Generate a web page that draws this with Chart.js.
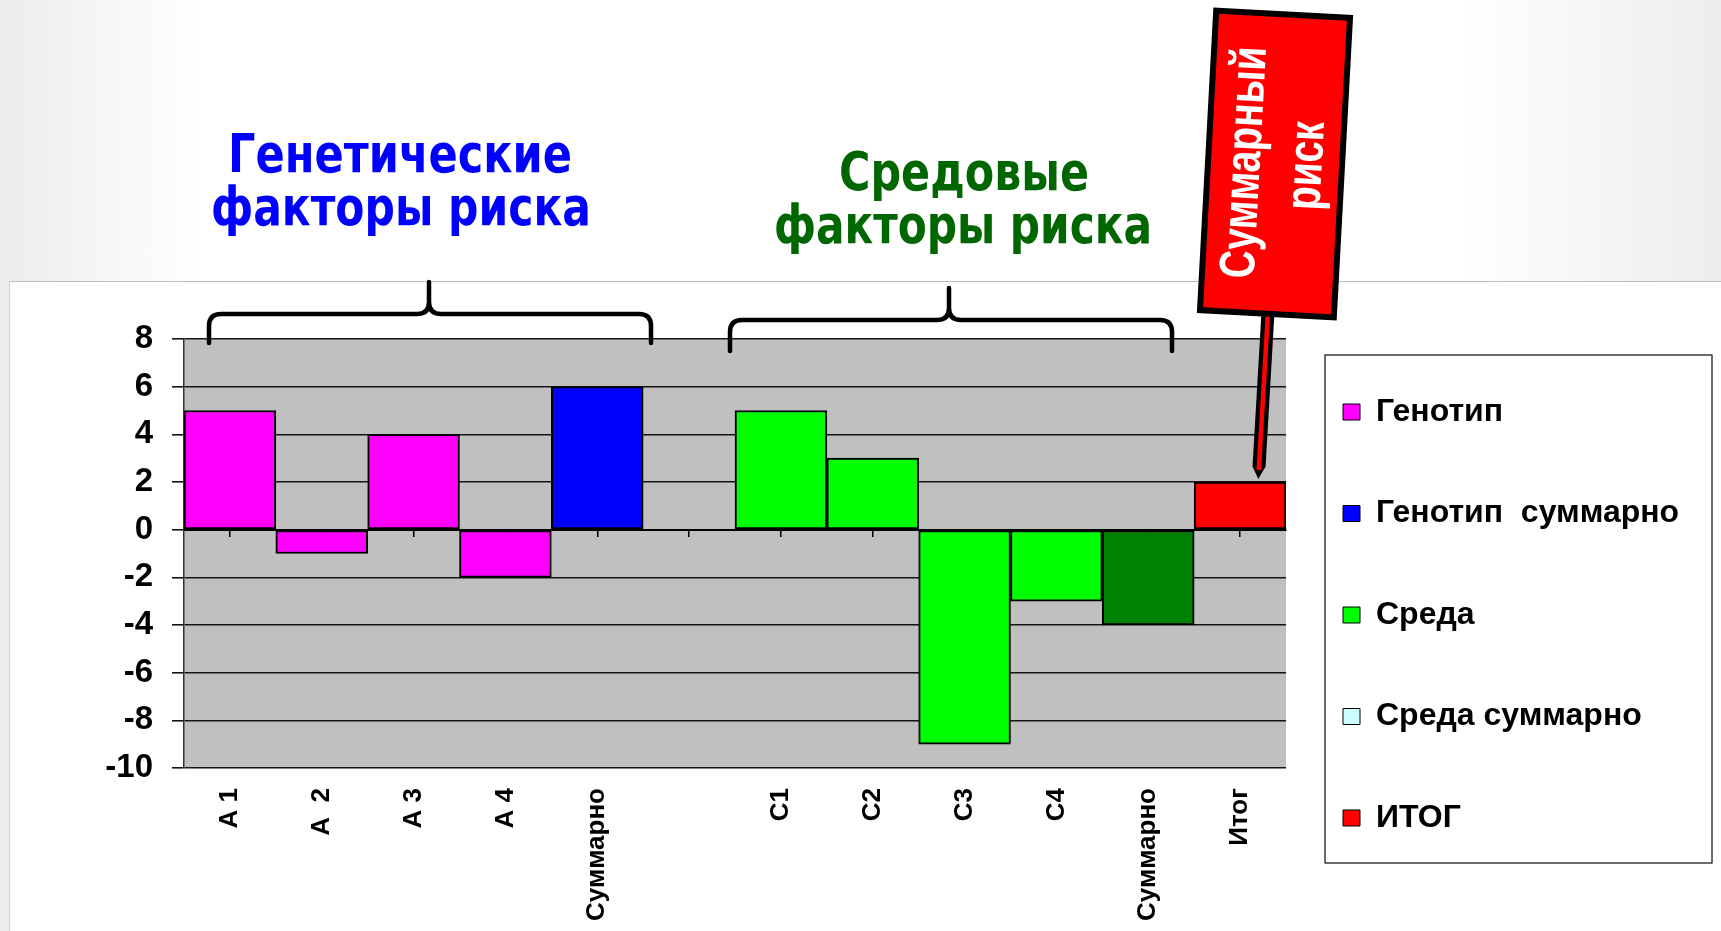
<!DOCTYPE html>
<html lang="ru">
<head>
<meta charset="utf-8">
<title>Генетические и средовые факторы риска</title>
<script src="https://cdn.jsdelivr.net/npm/chart.js@4.4.1/dist/chart.umd.min.js"></script>
<style>
  html, body { margin: 0; padding: 0; background: #ffffff; }
  body { width: 1721px; height: 931px; position: relative; overflow: hidden; }
  .edge { position: absolute; top: 0; height: 931px; }
  #edgeL { left: 0; width: 200px; background: linear-gradient(to right, #ececec, #ffffff); }
  #edgeR { right: 0; width: 260px; background: linear-gradient(to left, #ededed, #f5f5f5 45%, #ffffff); }
  #middle { position: absolute; left: 200px; top: 0; width: 1261px; height: 281px; background: #ffffff; }
  #panel {
    position: absolute; left: 9px; top: 281px; right: 0; bottom: 0;
    background: #ffffff; border-top: 1px solid #bdbdbd; border-left: 1px solid #cfcfcf;
  }
  #chart { position: absolute; left: 0; top: 0; }
</style>
</head>
<body>
<div class="edge" id="edgeL"></div>
<div class="edge" id="edgeR"></div>
<div id="middle"></div>
<div id="panel"></div>
<canvas id="chart" width="1721" height="931"></canvas>
<script>
// Categories along the x axis (an empty slot separates the two groups)
const categories = ['A 1', 'A  2', 'A 3', 'A 4', 'Суммарно', '', 'C1', 'C2', 'C3', 'C4', 'Суммарно', 'Итог'];

// Series values per category
const genotype         = [5, -1, 4, -2, null, null, null, null, null, null, null, null];
const genotypeTotal    = [null, null, null, null, 6, null, null, null, null, null, null, null];
const environment      = [null, null, null, null, null, null, 5, 3, -9, -3, null, null];
const environmentTotal = [null, null, null, null, null, null, null, null, null, null, -4, null];
const overall          = [null, null, null, null, null, null, null, null, null, null, null, 2];

// Series names and value-axis ticks
const seriesNames = ['Генотип', 'Генотип  суммарно', 'Среда', 'Среда суммарно', 'ИТОГ'];
const yTicks = [8, 6, 4, 2, 0, -2, -4, -6, -8, -10];

// Colours
const barColors    = ['#ff00ff', '#0000ff', '#00ff00', '#008000', '#ff0000'];
const legendColors = ['#ff00ff', '#0000ff', '#00ff00', '#ccffff', '#ff0000'];

const W = 1721, H = 931;
const PLOT_LEFT = 184, PLOT_TOP = 339, PLOT_RIGHT = 1286, PLOT_BOTTOM = 768;
const SANS = '"Liberation Sans", Arial, sans-serif';
const LEGEND_FONT = { family: SANS, weight: 'bold', size: 32, lineHeight: '44.5px' };
const LEGEND_PAD = 57, LEGEND_BOX_W = 17, LEGEND_BOX_H = 16;

// Width of the legend column, so the plot keeps its right edge
const mctx = document.createElement('canvas').getContext('2d');
mctx.font = 'bold 32px ' + SANS;
const longestName = Math.max(...seriesNames.map(s => mctx.measureText(s).width));
const legendWidth = LEGEND_PAD + LEGEND_BOX_W + LEGEND_FONT.size / 2 + longestName + 10;
const padRight = Math.max(0, W - PLOT_RIGHT - legendWidth);

const seriesData = [genotype, genotypeTotal, environment, environmentTotal, overall];
const datasets = seriesData.map((values, i) => ({
  label: seriesNames[i],
  data: values,
  backgroundColor: barColors[i],
  borderColor: '#000000',
  borderWidth: 2,
  borderSkipped: false,
  barPercentage: 1,
  categoryPercentage: 1,
  xAxisID: 'x',
  yAxisID: 'y'
}));

// Grey plot background
const plotBackground = {
  id: 'plotBackground',
  beforeDraw(chart) {
    const { ctx, chartArea: a } = chart;
    ctx.save();
    ctx.fillStyle = '#c0c0c0';
    ctx.fillRect(a.left, a.top, a.right - a.left, a.bottom - a.top);
    ctx.restore();
  }
};

function drawBrace(ctx, x0, x1, xc, yH, yEnd, yTop) {
  const r = 12;
  ctx.beginPath();
  ctx.moveTo(x0, yEnd);
  ctx.lineTo(x0, yH + r);
  ctx.quadraticCurveTo(x0, yH, x0 + r, yH);
  ctx.lineTo(xc - r, yH);
  ctx.quadraticCurveTo(xc, yH, xc, yH - r);
  ctx.lineTo(xc, yTop);
  ctx.moveTo(x1, yEnd);
  ctx.lineTo(x1, yH + r);
  ctx.quadraticCurveTo(x1, yH, x1 - r, yH);
  ctx.lineTo(xc + r, yH);
  ctx.quadraticCurveTo(xc, yH, xc, yH - r);
  ctx.stroke();
}

function fitText(ctx, text, cx, baseline, width) {
  const w = ctx.measureText(text).width;
  ctx.save();
  ctx.translate(cx, baseline);
  ctx.scale(width / w, 1);
  ctx.textAlign = 'center';
  ctx.textBaseline = 'alphabetic';
  ctx.fillText(text, 0, 0);
  ctx.restore();
}

// Headings, braces, legend frame and the "total risk" flag
const annotations = {
  id: 'annotations',
  afterDraw(chart) {
    const ctx = chart.ctx;
    ctx.save();

    // group headings
    ctx.font = 'bold 53px "DejaVu Sans", sans-serif';
    ctx.fillStyle = '#0000ff';
    fitText(ctx, 'Генетические', 400, 172, 344);
    fitText(ctx, 'факторы риска', 401, 225, 380);
    ctx.fillStyle = '#006600';
    fitText(ctx, 'Средовые', 964, 190, 250);
    fitText(ctx, 'факторы риска', 963, 243, 378);

    // braces over the two groups
    ctx.strokeStyle = '#000000';
    ctx.lineWidth = 4.5;
    ctx.lineCap = 'round';
    ctx.lineJoin = 'round';
    drawBrace(ctx, 209, 651, 429, 314, 343, 282);
    drawBrace(ctx, 730, 1172, 949, 320, 351, 288);

    // legend frame
    const lg = chart.legend;
    if (lg && lg.legendHitBoxes && lg.legendHitBoxes.length) {
      const hb = lg.legendHitBoxes;
      const x0 = hb[0].left - 18, y0 = hb[0].top - 41;
      const y1 = hb[hb.length - 1].top + 61;
      ctx.lineWidth = 1.5;
      ctx.lineCap = 'butt';
      ctx.strokeStyle = '#3a3a3a';
      ctx.strokeRect(x0, y0, 1712 - x0, y1 - y0);
    }

    // flag stem
    ctx.lineCap = 'butt';
    ctx.strokeStyle = '#000000';
    ctx.lineWidth = 13;
    ctx.beginPath();
    ctx.moveTo(1268, 312);
    ctx.lineTo(1259, 467);
    ctx.stroke();
    ctx.fillStyle = '#000000';
    ctx.beginPath();
    ctx.moveTo(1252.3, 466);
    ctx.lineTo(1265.3, 467);
    ctx.lineTo(1258.3, 479);
    ctx.closePath();
    ctx.fill();
    ctx.strokeStyle = '#ff0000';
    ctx.lineWidth = 4.5;
    ctx.beginPath();
    ctx.moveTo(1268, 312);
    ctx.lineTo(1258.8, 470);
    ctx.stroke();

    // flag body
    ctx.translate(1275, 164);
    ctx.rotate(3.1 * Math.PI / 180);
    ctx.fillStyle = '#ff0000';
    ctx.fillRect(-67, -150, 134, 300);
    ctx.lineWidth = 6;
    ctx.strokeStyle = '#000000';
    ctx.lineJoin = 'miter';
    ctx.strokeRect(-67, -150, 134, 300);

    // flag text, reading upwards
    ctx.rotate(-Math.PI / 2);
    ctx.fillStyle = '#ffffff';
    ctx.font = 'bold 50px ' + SANS;
    ctx.textAlign = 'center';
    ctx.textBaseline = 'middle';
    const k = 232 / ctx.measureText('Суммарный').width;
    ctx.save();
    ctx.scale(k, 1);
    ctx.fillText('Суммарный', 0, -29);
    ctx.fillText('риск', 0, 33);
    ctx.restore();

    ctx.restore();
  }
};

new Chart(document.getElementById('chart'), {
  type: 'bar',
  data: { labels: categories, datasets },
  plugins: [plotBackground, annotations],
  options: {
    responsive: false,
    animation: false,
    devicePixelRatio: 1,
    layout: { padding: { top: PLOT_TOP, left: 0, right: padRight, bottom: 0 } },
    plugins: {
      tooltip: { enabled: false },
      legend: {
        position: 'right',
        align: 'start',
        labels: {
          color: '#000000',
          font: LEGEND_FONT,
          padding: LEGEND_PAD,
          boxWidth: LEGEND_BOX_W,
          boxHeight: LEGEND_BOX_H,
          generateLabels(chart) {
            const items = Chart.defaults.plugins.legend.labels.generateLabels(chart);
            items.forEach((it, i) => {
              it.text = [it.text];
              it.fillStyle = legendColors[i];
              it.strokeStyle = '#000000';
              it.lineWidth = 1;
            });
            return items;
          }
        }
      }
    },
    scales: {
      x: {
        type: 'category',
        stacked: true,
        offset: true,
        position: 'bottom',
        grid: { display: false, drawTicks: false },
        border: { display: false },
        ticks: {
          autoSkip: false,
          minRotation: 90,
          maxRotation: 90,
          padding: 20,
          color: '#000000',
          font: { family: SANS, weight: 'bold', size: 26 }
        },
        afterFit(scale) { scale.height = H - PLOT_BOTTOM; }
      },
      xz: {
        type: 'category',
        axis: 'x',
        offset: true,
        position: { y: 0 },
        grid: { offset: false, drawOnChartArea: false, drawTicks: true, tickLength: 6, color: '#000000', lineWidth: 1.5 },
        border: { display: true, color: '#000000', width: 2 },
        ticks: { display: false }
      },
      y: {
        stacked: true,
        min: -10,
        max: 8,
        grid: { color: '#141414', lineWidth: 1.6, drawTicks: true, tickLength: 12 },
        border: { display: true, color: '#333333', width: 1.5 },
        afterBuildTicks(scale) { scale.ticks = yTicks.map(v => ({ value: v })); },
        ticks: {
          padding: 19,
          color: '#000000',
          font: { family: SANS, weight: 'bold', size: 33 }
        },
        afterFit(scale) { scale.width = PLOT_LEFT; }
      }
    }
  }
});
</script>
</body>
</html>
